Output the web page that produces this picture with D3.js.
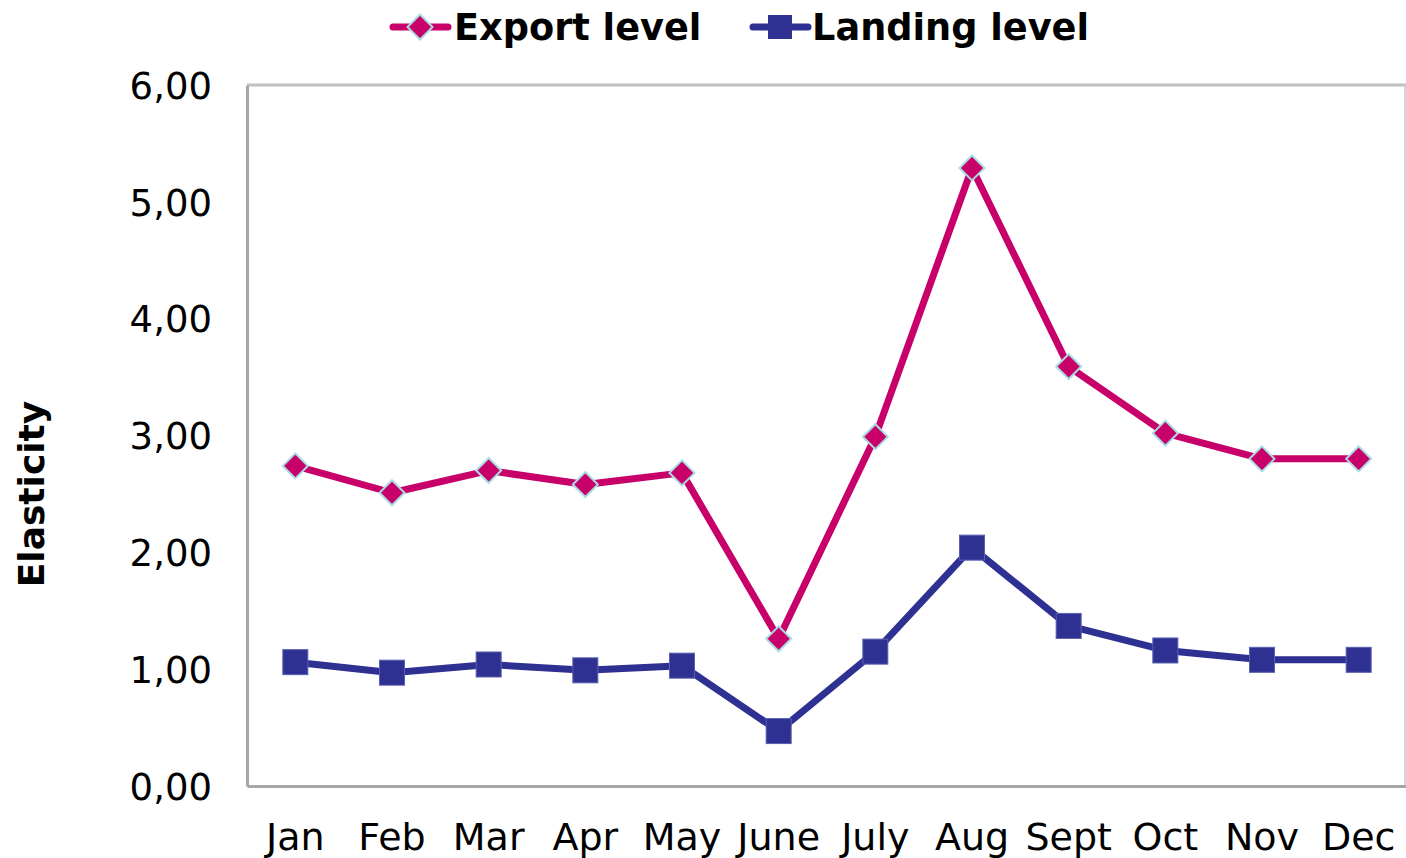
<!DOCTYPE html>
<html>
<head>
<meta charset="utf-8">
<script src="https://cdn.jsdelivr.net/npm/d3@7"></script>
<style>
  body { margin: 0; background: #fff; }
  text { font-family: "DejaVu Sans", Verdana, sans-serif; fill: #000; }
</style>
</head>
<body>
<div class="app"></div>
<script>
'use strict'

var months = ["Jan", "Feb", "Mar", "Apr", "May", "June", "July", "Aug", "Sept", "Oct", "Nov", "Dec"];
var exportLevel = [2.74, 2.51, 2.70, 2.58, 2.68, 1.26, 2.99, 5.29, 3.59, 3.02, 2.80, 2.80];
var landingLevel = [1.06, 0.97, 1.04, 0.99, 1.03, 0.47, 1.15, 2.04, 1.37, 1.16, 1.08, 1.08];
var yTicks = [0, 1, 2, 3, 4, 5, 6];

var W = 1406, H = 858;
var plot = { left: 247, right: 1406, top: 85, bottom: 786 };

var svg = d3.select(".app").append("svg")
  .attr("width", W)
  .attr("height", H);

// scales
var x = d3.scaleBand().domain(months).range([plot.left, plot.right + 1]);
var y = d3.scaleLinear().domain([0, 6]).range([plot.bottom, plot.top]);
var cx = function(m) { return x(m) + x.bandwidth() / 2; };

// plot frame
svg.append("line").attr("x1", plot.left).attr("x2", plot.right).attr("y1", plot.top).attr("y2", plot.top)
  .attr("stroke", "#c0c0c0").attr("stroke-width", 3);
svg.append("line").attr("x1", plot.right - 1).attr("x2", plot.right - 1).attr("y1", plot.top).attr("y2", plot.bottom)
  .attr("stroke", "#c8c8c8").attr("stroke-width", 1.5);

// y axis
var yAxis = d3.axisLeft(y).tickValues(yTicks).tickSize(0).tickPadding(35)
  .tickFormat(function(d) { return d3.format(".2f")(d).replace(".", ","); });
var gy = svg.append("g").attr("transform", "translate(" + plot.left + ",0)").call(yAxis);
gy.select(".domain").attr("stroke", "#a6a6a6").attr("stroke-width", 3);
gy.selectAll("text").style("font-size", "37px").attr("dy", "0.36em");

// x axis
var xAxis = d3.axisBottom(x).tickSize(0).tickPadding(37);
var gx = svg.append("g").attr("transform", "translate(0," + plot.bottom + ")").call(xAxis);
gx.select(".domain").attr("stroke", "#a6a6a6").attr("stroke-width", 3);
gx.selectAll("text").style("font-size", "38px");

// y title
svg.append("text")
  .attr("transform", "translate(44,494) rotate(-90)")
  .attr("text-anchor", "middle")
  .style("font-size", "36px")
  .style("font-weight", "bold")
  .text("Elasticity");

var line = d3.line()
  .x(function(d, i) { return cx(months[i]); })
  .y(function(d) { return y(d); });

var exportColor = "#c8006a";
var landingColor = "#2e3192";

// landing line + squares
svg.append("path").attr("d", line(landingLevel))
  .attr("fill", "none").attr("stroke", landingColor).attr("stroke-width", 7).attr("stroke-linejoin", "round");
svg.selectAll(".sq").data(landingLevel).enter().append("rect")
  .attr("class", "sq")
  .attr("x", function(d, i) { return cx(months[i]) - 12.5; })
  .attr("y", function(d) { return y(d) - 12.5; })
  .attr("width", 25).attr("height", 25)
  .attr("fill", landingColor).attr("stroke", "#5a5fb0").attr("stroke-width", 1);

// export line + diamonds
svg.append("path").attr("d", line(exportLevel))
  .attr("fill", "none").attr("stroke", exportColor).attr("stroke-width", 7).attr("stroke-linejoin", "round");
var diamond = "M0,-12.5L12.5,0L0,12.5L-12.5,0Z";
svg.selectAll(".dm").data(exportLevel).enter().append("path")
  .attr("class", "dm")
  .attr("d", diamond)
  .attr("transform", function(d, i) { return "translate(" + cx(months[i]) + "," + y(d) + ")"; })
  .attr("fill", exportColor).attr("stroke", "#a9dbe3").attr("stroke-width", 2);

// legend
var legY = 27;
var leg1 = svg.append("g");
leg1.append("line").attr("x1", 393).attr("x2", 448).attr("y1", legY).attr("y2", legY)
  .attr("stroke", exportColor).attr("stroke-width", 7).attr("stroke-linecap", "round");
leg1.append("path").attr("d", diamond).attr("transform", "translate(420," + legY + ")")
  .attr("fill", exportColor).attr("stroke", "#a9dbe3").attr("stroke-width", 2);
leg1.append("text").attr("x", 454).attr("y", legY + 13)
  .style("font-size", "36.7px").style("font-weight", "bold").text("Export level");

var leg2 = svg.append("g");
leg2.append("line").attr("x1", 753).attr("x2", 808).attr("y1", legY).attr("y2", legY)
  .attr("stroke", landingColor).attr("stroke-width", 7).attr("stroke-linecap", "round");
leg2.append("rect").attr("x", 768).attr("y", legY - 12).attr("width", 24).attr("height", 24)
  .attr("fill", landingColor);
leg2.append("text").attr("x", 812).attr("y", legY + 13)
  .style("font-size", "36.7px").style("font-weight", "bold").text("Landing level");
</script>
</body>
</html>
